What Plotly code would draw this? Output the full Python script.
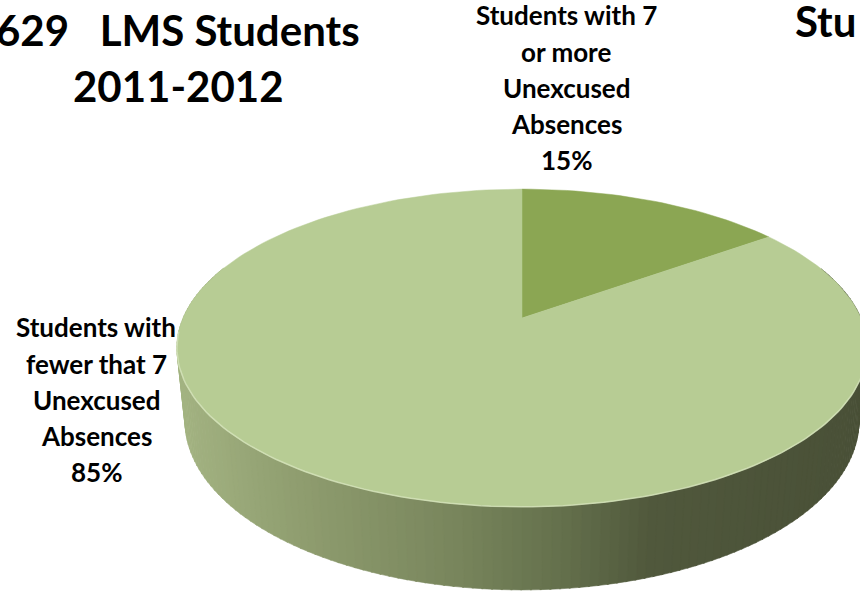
import math
import plotly.graph_objects as go

# ---- data -------------------------------------------------------------
categories = [
    "Students with 7 or more Unexcused Absences",
    "Students with fewer that 7 Unexcused Absences",
]
values = [15, 85]
label_lines = [
    ["Students with 7", "or more", "Unexcused", "Absences"],
    ["Students with", "fewer that 7", "Unexcused", "Absences"],
]
slice_colors = ["#8ba653", "#b7cc94"]
title_lines = ["629\u00a0\u00a0\u00a0LMS Students", "2011-2012"]
neighbor_title = "Stu"

# ---- 3D pie geometry (perspective camera) -----------------------------
W, H_PX = 860, 595
CX, CY = 522.0, 318.0          # screen position of the pie centre
PHI = math.asin(0.452)         # camera elevation
DIST = 4.73                    # camera distance (in pie radii)
FOCAL = 1603.0
THICK = 0.244                  # pie thickness (in pie radii)


def project(X, Y, Z):
    d = DIST - (Y * math.sin(PHI) + Z * math.cos(PHI))
    sx = CX + FOCAL * X / d
    sy = CY + FOCAL * (Z * math.sin(PHI) - Y * math.cos(PHI)) / d
    return sx, sy


def rim(t, level=0.0):
    # t: clockwise angle from 12 o'clock (back of the pie), radians
    return project(math.sin(t), level, -math.cos(t))


def lerp_color(x):
    stops = [(180, (163, 179, 130)), (300, (143, 157, 111)), (450, (121, 134, 93)),
             (560, (100, 112, 76)), (650, (80, 88, 60)), (860, (73, 80, 55))]
    if x <= stops[0][0]:
        c = stops[0][1]
    elif x >= stops[-1][0]:
        c = stops[-1][1]
    else:
        for (x0, c0), (x1, c1) in zip(stops, stops[1:]):
            if x0 <= x <= x1:
                f = (x - x0) / (x1 - x0)
                c = tuple(c0[i] + (c1[i] - c0[i]) * f for i in range(3))
                break
    return "rgb(%d,%d,%d)" % tuple(round(v) for v in c)


fig = go.Figure()

# side wall: thin shaded strips along the front half of the rim
total = sum(values)
n_strips = 160
t_lo, t_hi = math.radians(70), math.radians(290)
for i in range(n_strips):
    a0 = t_lo + (t_hi - t_lo) * i / n_strips
    a1 = t_lo + (t_hi - t_lo) * (i + 1) / n_strips + 0.004
    p = [rim(a0, 0), rim(a1, 0), rim(a1, -THICK), rim(a0, -THICK)]
    xs = [q[0] for q in p] + [p[0][0]]
    ys = [q[1] for q in p] + [p[0][1]]
    col = lerp_color(sum(xs[:4]) / 4)
    fig.add_trace(go.Scatter(x=xs, y=ys, mode="lines", fill="toself",
                             fillcolor=col, line=dict(color=col, width=0.6),
                             hoverinfo="skip", showlegend=False))

# top face: one wedge per category
start = 0.0
for cat, val, col in zip(categories, values, slice_colors):
    span = 2 * math.pi * val / total
    n = max(8, int(200 * val / total))
    xs, ys = [CX], [CY]
    for k in range(n + 1):
        sx, sy = rim(start + span * k / n, 0)
        xs.append(sx)
        ys.append(sy)
    xs.append(CX)
    ys.append(CY)
    fig.add_trace(go.Scatter(x=xs, y=ys, mode="lines", fill="toself",
                             fillcolor=col, line=dict(color=col, width=0.5),
                             name=cat, hoverinfo="name", showlegend=False))
    start += span

# faint highlight along the front edge of the top face
hx, hy = [], []
for k in range(121):
    sx, sy = rim(math.radians(95 + 170 * k / 120), 0)
    hx.append(sx)
    hy.append(sy)
fig.add_trace(go.Scatter(x=hx, y=hy, mode="lines",
                         line=dict(color="rgba(214,228,188,0.8)", width=1.5),
                         hoverinfo="skip", showlegend=False))

# ---- text --------------------------------------------------------------
FONT = "Lato"
ann = []
TITLE_SIZE = 42
for txt, base in zip(title_lines, [46, 102]):
    ann.append(dict(x=178, y=base - 0.37 * TITLE_SIZE, text="<b>%s</b>" % txt,
                    xanchor="center", yanchor="middle", showarrow=False,
                    font=dict(family=FONT, size=TITLE_SIZE, color="black")))
ann.append(dict(x=858, y=37 - 0.37 * TITLE_SIZE, text="<b>%s</b>" % neighbor_title,
                xanchor="right", yanchor="middle", showarrow=False,
                font=dict(family=FONT, size=TITLE_SIZE, color="black")))

LABEL_SIZE = 26
label_pos = [(566, 25), (96, 337)]
for lines, val, (lx, base0) in zip(label_lines, values, label_pos):
    pct = "%d%%" % round(100 * val / total)
    for j, line in enumerate(lines + [pct]):
        base = base0 + 36.2 * j
        ann.append(dict(x=lx, y=base - 0.37 * LABEL_SIZE, text="<b>%s</b>" % line,
                        xanchor="center", yanchor="middle", showarrow=False,
                        font=dict(family=FONT, size=LABEL_SIZE, color="black")))

fig.update_layout(
    width=W, height=H_PX,
    margin=dict(l=0, r=0, t=0, b=0),
    paper_bgcolor="white", plot_bgcolor="white",
    xaxis=dict(range=[0, W], visible=False, fixedrange=True),
    yaxis=dict(range=[H_PX, 0], visible=False, fixedrange=True),
    annotations=ann,
)

fig.write_html("out.html", config={"displayModeBar": False})
